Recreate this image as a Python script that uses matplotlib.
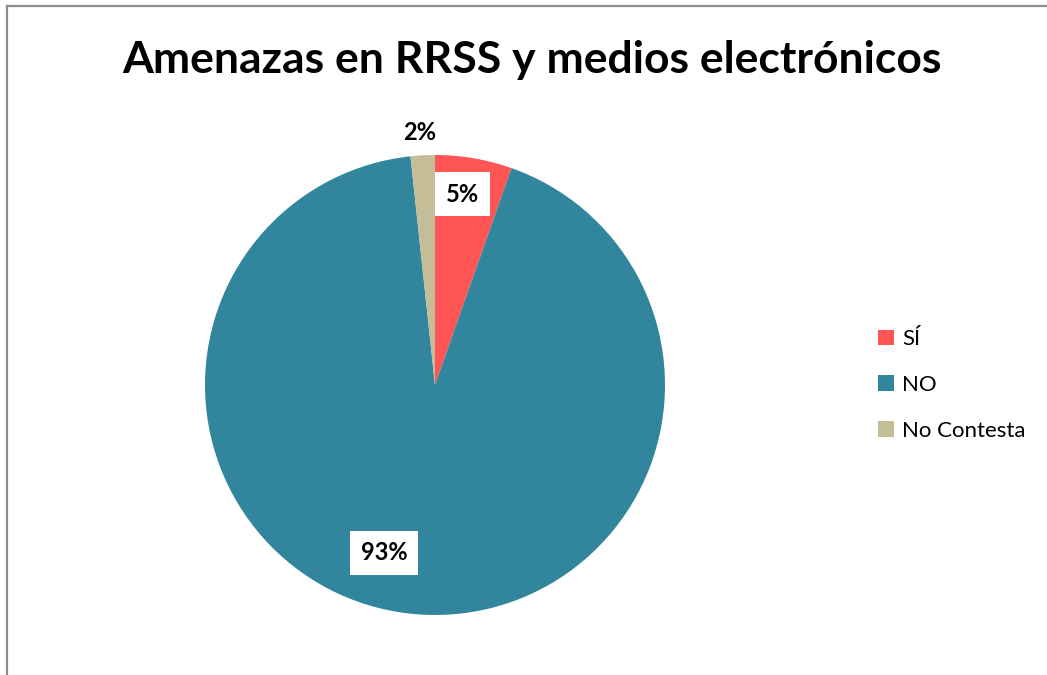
import matplotlib
matplotlib.use("Agg")
import matplotlib.pyplot as plt
import numpy as np
from matplotlib.lines import Line2D
from matplotlib.patches import Rectangle

categories = ["SÍ", "NO", "No Contesta"]
values = [5.4, 92.9, 1.7]
labels = ["5%", "93%", "2%"]
colors = ["#FF5555", "#31859C", "#C4BD97"]

W, H = 1047, 675
fig = plt.figure(figsize=(W / 100, H / 100), dpi=100)
fig.patch.set_facecolor("white")

# border (top and left visible)
fig.add_artist(Line2D([7 / W, 7 / W], [0, 1 - 6 / H], transform=fig.transFigure, color="#8C8C8C", lw=1.6))
fig.add_artist(Line2D([7 / W, 1], [1 - 6 / H, 1 - 6 / H], transform=fig.transFigure, color="#8C8C8C", lw=1.6))

cx, cy, r = 435, 385, 230
ax = fig.add_axes([(cx - r) / W, (H - cy - r) / H, 2 * r / W, 2 * r / H])
wedges, _ = ax.pie(values, colors=colors, startangle=90, counterclock=False,
                   radius=1.0, wedgeprops=dict(linewidth=0))
ax.set_xlim(-1, 1)
ax.set_ylim(-1, 1)
ax.set_aspect("equal")
ax.axis("off")

font = ["Lato", "DejaVu Sans"]
label_pos = [(0.12, 0.83), (-0.22, -0.73), (-0.065, 1.10)]
boxed = [True, True, False]
for lab, (x, y), b in zip(labels, label_pos, boxed):
    kw = dict(ha="center", va="center", fontsize=17, fontweight="bold", family=font, color="black", clip_on=False)
    if b:
        kw["bbox"] = dict(boxstyle="square,pad=0.45", fc="white", ec="none")
    ax.text(x, y, lab, **kw)

fig.text(532 / W, 1 - 60 / H, "Amenazas en RRSS y medios electrónicos", ha="center", va="center",
         fontsize=32, fontweight="bold", family=font)

handles = [Rectangle((0, 0), 1, 1, fc=c, ec="none") for c in colors]
leg = fig.legend(handles, categories, loc="center left", bbox_to_anchor=(858 / W, 1 - 385 / H),
                 frameon=False, prop=dict(family=font, size=16), handlelength=0.7, handleheight=0.7,
                 handletextpad=0.4, labelspacing=1.15)

fig.savefig("out.png", dpi=100)
